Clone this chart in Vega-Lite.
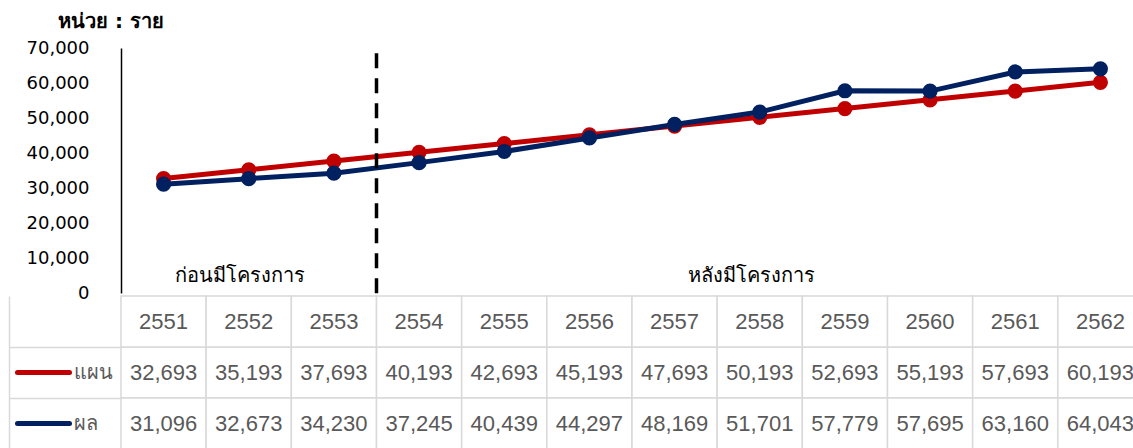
{
  "$schema": "https://vega.github.io/schema/vega-lite/v6.json",
  "background": "white",
  "padding": {"left": 8, "top": 12, "right": 0, "bottom": 0},
  "config": {"view": {"stroke": null}, "font": "DejaVu Sans"},
  "datasets": {
    "d": [
      {"year": "2551", "series": "แผน", "value": 32693},
      {"year": "2552", "series": "แผน", "value": 35193},
      {"year": "2553", "series": "แผน", "value": 37693},
      {"year": "2554", "series": "แผน", "value": 40193},
      {"year": "2555", "series": "แผน", "value": 42693},
      {"year": "2556", "series": "แผน", "value": 45193},
      {"year": "2557", "series": "แผน", "value": 47693},
      {"year": "2558", "series": "แผน", "value": 50193},
      {"year": "2559", "series": "แผน", "value": 52693},
      {"year": "2560", "series": "แผน", "value": 55193},
      {"year": "2561", "series": "แผน", "value": 57693},
      {"year": "2562", "series": "แผน", "value": 60193},
      {"year": "2551", "series": "ผล", "value": 31096},
      {"year": "2552", "series": "ผล", "value": 32673},
      {"year": "2553", "series": "ผล", "value": 34230},
      {"year": "2554", "series": "ผล", "value": 37245},
      {"year": "2555", "series": "ผล", "value": 40439},
      {"year": "2556", "series": "ผล", "value": 44297},
      {"year": "2557", "series": "ผล", "value": 48169},
      {"year": "2558", "series": "ผล", "value": 51701},
      {"year": "2559", "series": "ผล", "value": 57779},
      {"year": "2560", "series": "ผล", "value": 57695},
      {"year": "2561", "series": "ผล", "value": 63160},
      {"year": "2562", "series": "ผล", "value": 64043}
    ],
    "notes": [
      {"label": "ก่อนมีโครงการ", "year": "2552", "value": 5000},
      {"label": "หลังมีโครงการ", "year": "2558", "value": 5000}
    ],
    "divider": [
      {"year": "2554", "value": 68500, "bottom": -800}
    ]
  },
  "bounds": "flush",
  "spacing": 3,
  "resolve": {"scale": {"x": "independent", "y": "independent", "color": "independent"}},
  "vconcat": [
    {
      "width": 1022,
      "height": 245,
      "title": {"text": "หน่วย : ราย", "anchor": "start", "frame": "group", "dx": -63, "fontSize": 20, "fontWeight": "bold", "color": "black", "offset": 7},
      "data": {"name": "d"},
      "encoding": {
        "x": {"field": "year", "type": "ordinal", "scale": {"paddingInner": 0, "paddingOuter": 0}, "axis": null},
        "y": {"field": "value", "type": "quantitative", "scale": {"domain": [0, 70000], "nice": false},
          "axis": {"values": [0, 10000, 20000, 30000, 40000, 50000, 60000, 70000], "format": ",.0f", "labelOverlap": false, "labelFont": "DejaVu Sans", "labelFontSize": 18, "labelColor": "black", "domainColor": "black", "domainWidth": 1.5, "ticks": false, "grid": false, "labelPadding": 32, "title": null, "minExtent": 112, "maxExtent": 112}}
      },
      "layer": [
        {
          "mark": {"type": "line", "strokeWidth": 5},
          "encoding": {
            "color": {"field": "series", "type": "nominal", "scale": {"domain": ["แผน", "ผล"], "range": ["#C00000", "#002060"]}, "legend": null}
          }
        },
        {
          "mark": {"type": "point", "filled": true, "size": 230, "opacity": 1},
          "encoding": {
            "color": {"field": "series", "type": "nominal", "scale": {"domain": ["แผน", "ผล"], "range": ["#C00000", "#002060"]}, "legend": null}
          }
        },
        {
          "data": {"name": "divider"},
          "mark": {"type": "rule", "strokeDash": [15, 10], "strokeWidth": 3.5, "color": "black"},
          "encoding": {
            "x": {"field": "year", "type": "ordinal", "bandPosition": 0},
            "y2": {"field": "bottom"}
          }
        },
        {
          "data": {"name": "notes"},
          "mark": {"type": "text", "fontSize": 20, "color": "black"},
          "encoding": {
            "x": {"field": "year", "type": "ordinal", "bandPosition": 0.4},
            "text": {"field": "label"}
          }
        }
      ]
    },
    {
      "width": 1022,
      "height": 153,
      "data": {"name": "d"},
      "resolve": {"axis": {"y": "independent"}},
      "encoding": {
        "x": {"field": "year", "type": "ordinal", "scale": {"paddingInner": 0, "paddingOuter": 0}, "axis": null}
      },
      "layer": [
        {
          "mark": {"type": "rect", "fill": "white", "stroke": "#d9d9d9", "strokeWidth": 1.5},
          "encoding": {"y": {"field": "series", "type": "nominal", "scale": {"domain": ["header", "แผน", "ผล"], "paddingInner": 0, "paddingOuter": 0},
            "axis": {"orient": "left", "values": ["แผน", "ผล"], "offset": 52, "domain": false, "ticks": true, "tickSize": 52, "tickWidth": 5, "tickCap": "round",
              "tickColor": {"condition": {"test": "datum.value === 'แผน'", "value": "#C00000"}, "value": "#002060"},
              "labelPadding": -56, "labelAlign": "left", "labelFontSize": 20, "labelColor": "#595959", "title": null}}}
        },
        {
          "transform": [{"filter": "datum.series == 'แผน'"}],
          "mark": {"type": "rect", "fill": "white", "stroke": "#d9d9d9", "strokeWidth": 1.5},
          "encoding": {"y": {"datum": "header", "type": "nominal",
            "axis": {"orient": "left", "values": ["แผน", "ผล"], "offset": 112, "domain": true, "domainColor": "#d9d9d9", "domainWidth": 1.5, "ticks": true, "tickBand": "extent", "tickSize": -112, "tickWidth": 1.5, "tickColor": "#d9d9d9", "labels": false, "grid": false, "title": null}}}
        },
        {
          "mark": {"type": "text", "fontSize": 22, "color": "#595959", "font": "Liberation Sans"},
          "encoding": {
            "y": {"field": "series", "type": "nominal", "axis": null},
            "text": {"field": "value", "type": "quantitative", "format": ","}
          }
        },
        {
          "transform": [{"filter": "datum.series == 'แผน'"}],
          "mark": {"type": "text", "fontSize": 22, "color": "#595959", "font": "Liberation Sans"},
          "encoding": {
            "y": {"datum": "header", "type": "nominal", "axis": null},
            "text": {"field": "year"}
          }
        }
      ]
    }
  ]
}
